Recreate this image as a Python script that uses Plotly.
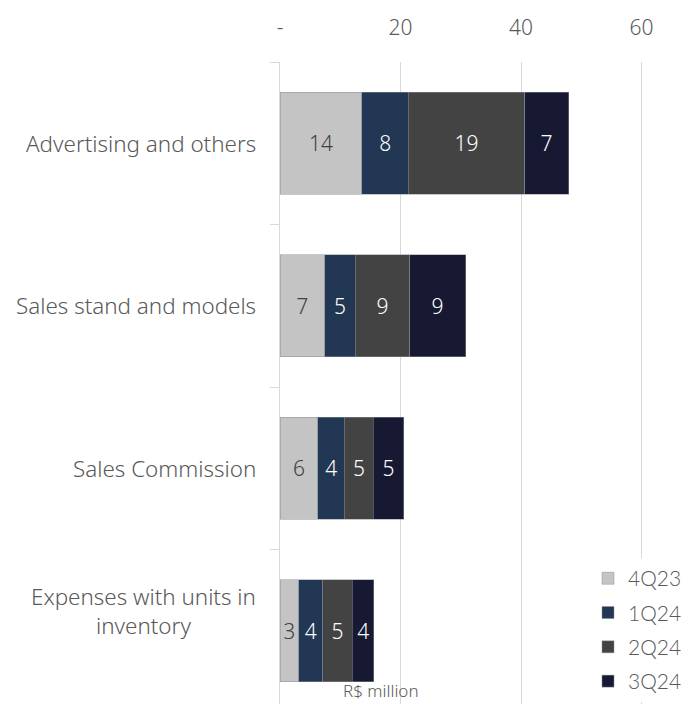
import plotly.graph_objects as go

# Selling expenses by quarter, R$ million
categories = [
    "Advertising and others",
    "Sales stand and models",
    "Sales Commission",
    "Expenses with units in<br>inventory",
]
quarters = ["4Q23", "1Q24", "2Q24", "3Q24"]
values = {
    "4Q23": [13.6, 7.4, 6.3, 3.1],
    "1Q24": [7.7, 5.1, 4.4, 4.0],
    "2Q24": [19.3, 9.0, 4.8, 4.9],
    "3Q24": [7.3, 9.3, 5.0, 3.6],
}
colors = {
    "4Q23": "#c4c4c4",
    "1Q24": "#213753",
    "2Q24": "#434343",
    "3Q24": "#161931",
}
label_colors = {
    "4Q23": "#404040",
    "1Q24": "#ffffff",
    "2Q24": "#ffffff",
    "3Q24": "#ffffff",
}
x_ticks = [0, 20, 40, 60]
x_tick_text = ["-", "20", "40", "60"]
unit_label = "R$ million"

W, H = 687, 704
L, T = 280, 62
FONT = "Noto Sans"

fig = go.Figure()
for q in quarters:
    fig.add_trace(go.Bar(
        y=categories,
        x=values[q],
        name=q,
        legendgroup=q,
        orientation="h",
        marker=dict(color=colors[q], line=dict(color="#8a909a", width=0.5)),
        texttemplate="%{x:.0f}",
        textposition="inside",
        insidetextanchor="middle",
        textfont=dict(family=FONT, size=21, weight=300, color=label_colors[q]),
        constraintext="none",
        hoverinfo="skip",
    ))

# category labels drawn as centred text left of the axis;
# two-line labels sit a little higher than their bar
annotations = []
for c in categories:
    annotations.append(dict(
        x=0, xref="paper", y=c, yref="y",
        text=c, showarrow=False, xanchor="right", xshift=-22,
        yshift=20 if "<br>" in c else 0,
        align="center",
        font=dict(family=FONT, size=22.4, weight=300, color="#595959"),
    ))
annotations.append(dict(
    x=(381 - L) / (W - L), xref="paper", y=0, yref="paper",
    text=unit_label, showarrow=False, xanchor="center", yanchor="bottom",
    yshift=0,
    font=dict(family=FONT, size=17, weight=300, color="#595959"),
))

fig.update_layout(
    width=W, height=H,
    margin=dict(l=L, r=0, t=T, b=0),
    paper_bgcolor="white", plot_bgcolor="white",
    barmode="stack", bargap=0.372,
    uniformtext=dict(minsize=21, mode="show"),
    showlegend=True,
    legend=dict(
        x=(589 - L) / (W - L), xanchor="left",
        y=0.003, yanchor="bottom",
        traceorder="grouped", tracegroupgap=4,
        bgcolor="white",
        font=dict(family="Lato", size=21, weight=300, color="#595959"),
    ),
    xaxis=dict(
        side="top", range=[0, (W - L) / 6.04],
        tickvals=x_ticks, ticktext=x_tick_text,
        showgrid=True, gridcolor="#d9d9d9", gridwidth=1,
        zeroline=False, showline=False, ticks="",
        ticklabelstandoff=22,
        tickfont=dict(family=FONT, size=21, weight=300, color="#595959"),
    ),
    yaxis=dict(
        type="category", categoryorder="array", categoryarray=categories,
        range=[3.45, -0.5],
        showticklabels=False,
        showline=True, linecolor="#d9d9d9", linewidth=1,
        ticks="outside", tickson="boundaries", ticklen=9, tickcolor="#d9d9d9",
        showgrid=False, zeroline=False,
    ),
    annotations=annotations,
)

fig.write_html("out.html")
